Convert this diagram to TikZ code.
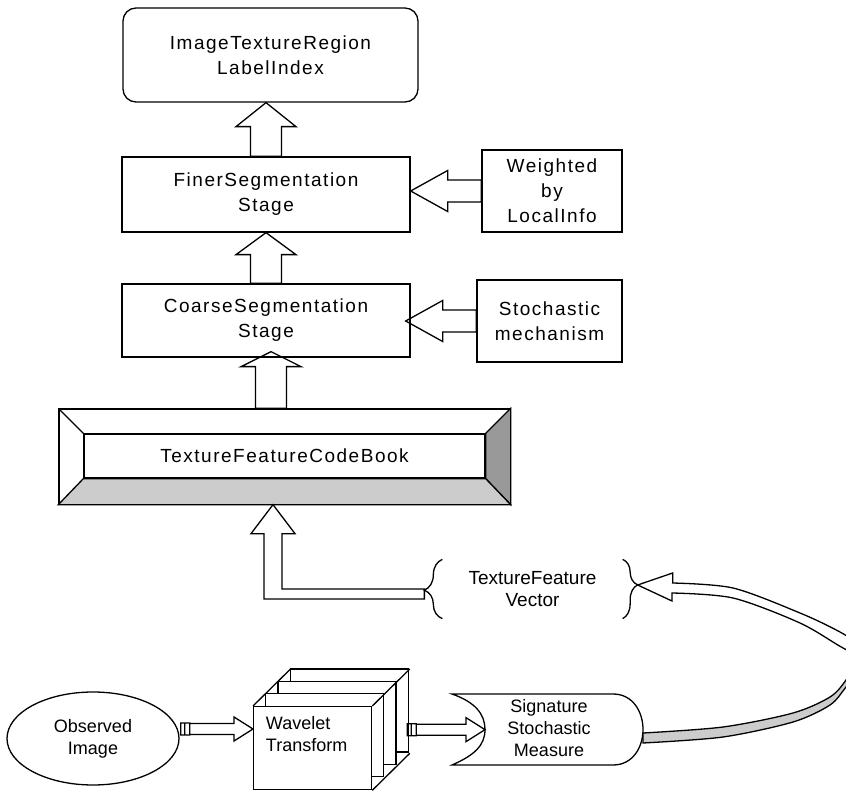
\documentclass[tikz,border=0pt]{standalone}
\usepackage{fontspec}
\setmainfont{Liberation Sans}
\newfontfamily\wideSans[LetterSpace=8]{Liberation Sans}
\usetikzlibrary{calc,shapes.geometric,decorations.pathreplacing}

\tikzset{
  lbl/.style={font=\wideSans\fontsize{19}{25}\selectfont, align=center},
  sml/.style={font=\fontsize{18}{22}\selectfont, align=center},
  box/.style={draw, fill=white, lbl},
  blk/.style={draw, line join=miter},
  brc/.style={decorate}
}

% hollow block arrows: tip, tail (, head length)
\newcommand{\blkup}[3]{%
  \draw[blk] let \p1=#1, \p2=#2 in
    (\x1,\y1) -- (\x1+30pt,\y1-#3pt) -- (\x1+15.5pt,\y1-#3pt) -- (\x1+15.5pt,\y2)
    -- (\x1-15.5pt,\y2) -- (\x1-15.5pt,\y1-#3pt) -- (\x1-30pt,\y1-#3pt) -- cycle;}
\newcommand{\blkleft}[2]{%
  \draw[blk] let \p1=#1, \p2=#2 in
    (\x1,\y1) -- (\x1+37pt,\y1+20.5pt) -- (\x1+37pt,\y1+11pt) -- (\x2,\y1+11pt)
    -- (\x2,\y1-11pt) -- (\x1+37pt,\y1-11pt) -- (\x1+37pt,\y1-20.5pt) -- cycle;}
% small arrow with two stripes at its tail: start, tip
\newcommand{\striparrow}[2]{%
  \draw[blk] let \p1=#1, \p2=#2 in
    (\x1,\y1-6pt) rectangle (\x1+4pt,\y1+6pt)
    (\x1+4pt,\y1-6pt) rectangle (\x1+9pt,\y1+6pt)
    (\x1+9pt,\y1+5.5pt) -- (\x2-19pt,\y1+5.5pt) -- (\x2-19pt,\y1+12pt) -- (\x2,\y1)
    -- (\x2-19pt,\y1-12pt) -- (\x2-19pt,\y1-5.5pt) -- (\x1+9pt,\y1-5.5pt) -- cycle;}

\begin{document}
\begin{tikzpicture}[x=1pt, y=-1pt, line width=1.3pt]
  \useasboundingbox (0,0) rectangle (846,791);

  % segmentation stages
  \node[box, rounded corners=13, minimum width=295, minimum height=94] (top) at (270.5,55) {ImageTextureRegion\\LabelIndex};
  \node[box, minimum width=288, minimum height=75] (finer) at (266,194.5) {FinerSegmentation\\Stage};
  \node[box, minimum width=140, minimum height=82] (weighted) at (552,191) {Weighted\\by\\LocalInfo};
  \node[box, minimum width=288, minimum height=73] (coarse) at (266,320.5) {CoarseSegmentation\\Stage};
  \node[box, minimum width=145, minimum height=82] (stoch) at (549.5,321) {Stochastic\\mechanism};

  % code book with bevel
  \node[draw, minimum width=451, minimum height=95] (cb) at (284.5,456.5) {};
  \filldraw[fill=gray!80] (cb.north east) -- (cb.south east) -- ++(-25,-26) -- ($(cb.north east)+(-25,25)$) -- cycle;
  \filldraw[fill=gray!40] (cb.south west) -- (cb.south east) -- ++(-25,-26) -- ($(cb.south west)+(25,-26)$) -- cycle;
  \draw (cb.north west) -- ++(25,25);
  \node[box, minimum width=401, minimum height=44] (cbin) at ($(cb.center)+(0,-0.5)$) {TextureFeatureCodeBook};

  \blkup{(top.south -| finer.north)}{(finer.north)}{24}
  \blkup{(finer.south)}{(coarse.north)}{22}
  \blkup{($(coarse.south)+(5,-6)$)}{(cb.north)}{15}
  \blkleft{(finer.east |- weighted.west)}{(weighted.west)}
  \blkleft{($(coarse.east |- stoch.west)+(-5,0)$)}{(stoch.west)}

  % feature vector in braces
  \node[sml, font=\fontsize{19}{22}\selectfont, minimum width=179, minimum height=58] (vec) at (532.5,589) {TextureFeature\\Vector};
  \draw[brc, decoration={brace, amplitude=18pt, aspect=0.48}] (vec.south west) -- (vec.north west);
  \draw[brc, decoration={brace, amplitude=15pt, aspect=0.43}] (vec.north east) -- (vec.south east);
  \coordinate (vecL) at ($(vec.west)+(-18,1)$);
  \coordinate (vecR) at ($(vec.east)+(15,-4)$);

  % elbow arrow up into the code book
  \draw[blk] let \p1=($(cb.south)+(-11.5,0)$), \p2=(vecL) in
    (\x1,\y1) -- (\x1+22pt,\y1-29pt) -- (\x1+9pt,\y1-29pt) -- (\x1+9pt,\y2+1pt) -- (\x2,\y2+1pt)
    -- (\x2,\y2-9pt) -- (\x1-9pt,\y2-9pt) -- (\x1-9pt,\y1-29pt) -- (\x1-22pt,\y1-29pt) -- cycle;

  % bottom row
  \node[draw, ellipse, sml, minimum width=172, minimum height=93] (obs) at (93,738.5) {Observed\\Image};
  \foreach \i in {3,2,1}
    \draw[fill=white] (253+12.5*\i, 706-12.3*\i) rectangle ++(118,83);
  \node[draw, fill=white, minimum width=118, minimum height=83, inner sep=0, anchor=north west] (wav) at (253,706) {};
  \draw (wav.north west) -- ++(37.5,-37) (wav.north east) -- ++(37.5,-37) (wav.south east) -- ++(37.5,-37);
  \node[sml, align=left, anchor=north west] (wavtxt) at ($(wav.north west)+(9,6)$) {Wavelet\\Transform};

  \draw (452,694) -- (613,694) .. controls (633,694) and (643,712) .. (643,729.5)
    .. controls (643,747) and (633,765) .. (613,765) -- (452,765)
    .. controls (475,755) and (485,745) .. (485,729.5)
    .. controls (485,714) and (475,702) .. (452,694) -- cycle;
  \node[sml] (sig) at (549,728) {Signature\\Stochastic\\Measure};
  \coordinate (sigin) at (485,729);
  \coordinate (sigout) at (643,738);

  \striparrow{($(obs.east)+(1,-9.5)$)}{(wav.west)}
  \striparrow{($(wav.east)+(35,-18.5)$)}{(sigin)}

  % ribbon arrow back to the feature vector
  \filldraw[fill=gray!40] (sigout) ++(0,-5) -- plot[smooth] coordinates {(643,733) (723,727) (793,713) (830,697) (846,680) (858,658)}
    -- (866,662) -- plot[smooth] coordinates {(866,662) (846,687) (830,705) (793,722) (723,737) (643,743)} -- cycle;
  \filldraw[fill=white] (vecR) -- ++(35,-12) -- ++(0,10)
    -- plot[smooth] coordinates {(672,583) (733,588) (800,613) (840,632) (872,652)} -- (872,662)
    -- plot[smooth] coordinates {(872,662) (843,648) (800,623) (733,598) (672,593)} -- ++(0,8) -- cycle;
\end{tikzpicture}
\end{document}
